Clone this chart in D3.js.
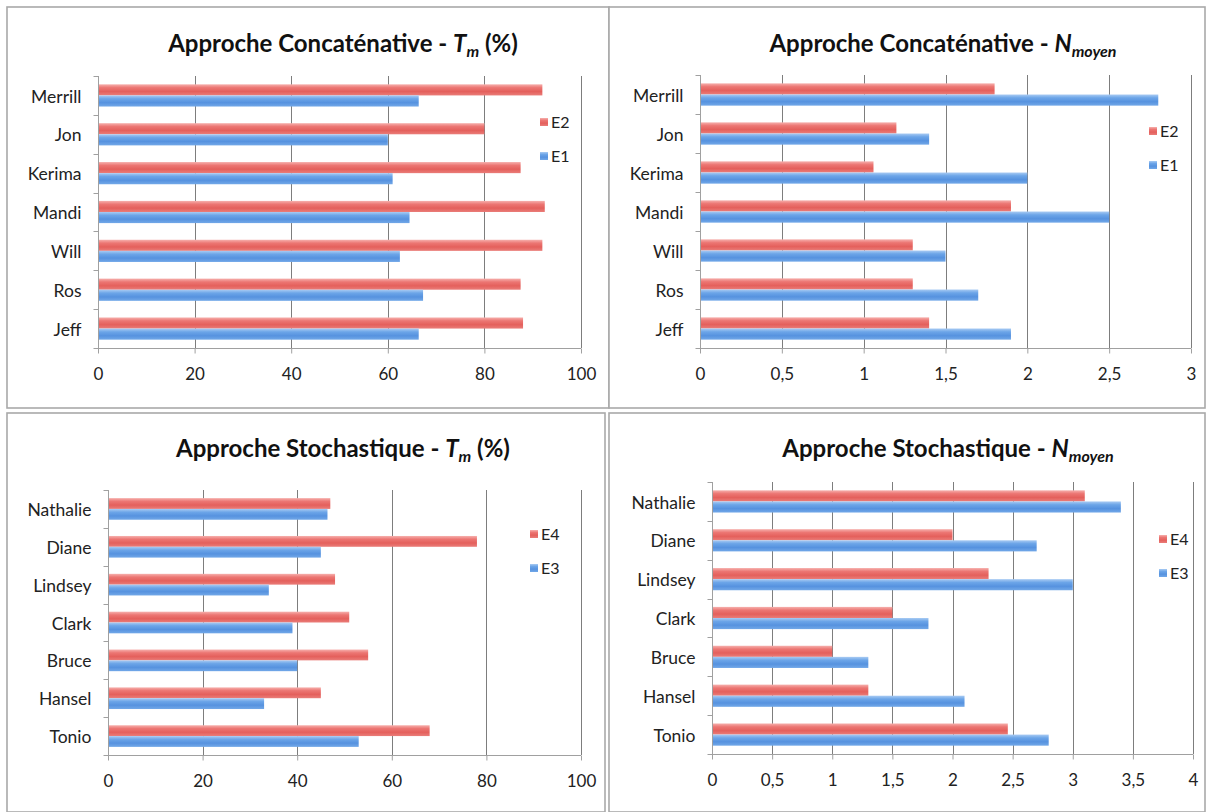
<!DOCTYPE html>
<html>
<head>
<meta charset="utf-8">
<script src="https://cdn.jsdelivr.net/npm/d3@7"></script>
<style>
  html, body { margin: 0; padding: 0; background: #ffffff; }
  svg { display: block; }
  text { font-family: Lato, "Open Sans", "DejaVu Sans", sans-serif; }
</style>
</head>
<body>
<svg id="chart" width="1206" height="812"></svg>
<script>
// ---- Data ----
const namesConcat = ["Merrill", "Jon", "Kerima", "Mandi", "Will", "Ros", "Jeff"];
const concatTmE2 = [92, 80, 87.5, 92.5, 92, 87.5, 88];
const concatTmE1 = [66.4, 60, 61, 64.5, 62.5, 67.3, 66.4];
const concatNE2 = [1.8, 1.2, 1.06, 1.9, 1.3, 1.3, 1.4];
const concatNE1 = [2.8, 1.4, 2.0, 2.5, 1.5, 1.7, 1.9];

const namesStoch = ["Nathalie", "Diane", "Lindsey", "Clark", "Bruce", "Hansel", "Tonio"];
const stochTmE4 = [47, 78, 48, 51, 55, 45, 68];
const stochTmE3 = [46.4, 45, 34, 39, 40, 33, 53];
const stochNE4 = [3.1, 2.0, 2.3, 1.5, 1.0, 1.3, 2.46];
const stochNE3 = [3.4, 2.7, 3.0, 1.8, 1.3, 2.1, 2.8];

const tmTicks = [0, 20, 40, 60, 80, 100];
const nConcatTicks = [0, 0.5, 1, 1.5, 2, 2.5, 3];
const nStochTicks = [0, 0.5, 1, 1.5, 2, 2.5, 3, 3.5, 4];

const seriesConcat = ["E2", "E1"];
const seriesStoch = ["E4", "E3"];

// ---- Panel layout ----
const panels = [
  { box: [7, 7, 602, 401], plot: [98, 76, 581, 348], titleX: 343, titleY: 52,
    titleMain: "Approche Concaténative - ", sym: "T", sub: "m", tail: " (%)",
    names: namesConcat, series: seriesConcat, values: [concatTmE2, concatTmE1],
    ticks: tmTicks, legend: [540, 122, 34] },
  { box: [609, 7, 596, 401], plot: [700, 75, 1191, 348], titleX: 943, titleY: 52,
    titleMain: "Approche Concaténative - ", sym: "N", sub: "moyen", tail: "",
    names: namesConcat, series: seriesConcat, values: [concatNE2, concatNE1],
    ticks: nConcatTicks, legend: [1149, 131, 34] },
  { box: [7, 413, 598, 399], plot: [108, 490, 581, 755], titleX: 343, titleY: 457,
    titleMain: "Approche Stochastique - ", sym: "T", sub: "m", tail: " (%)",
    names: namesStoch, series: seriesStoch, values: [stochTmE4, stochTmE3],
    ticks: tmTicks, legend: [530, 534, 34] },
  { box: [609, 413, 596, 399], plot: [712, 482, 1193, 754], titleX: 948, titleY: 457,
    titleMain: "Approche Stochastique - ", sym: "N", sub: "moyen", tail: "",
    names: namesStoch, series: seriesStoch, values: [stochNE4, stochNE3],
    ticks: nStochTicks, legend: [1159, 539, 34] }
];

const frLocale = d3.formatLocale({ decimal: ",", thousands: " ", grouping: [3], currency: ["", " €"] });
const fmt = frLocale.format("~g");

const svg = d3.select("#chart");
const defs = svg.append("defs");

// Glossy bar fills (red = upper series, blue = lower series)
function addGradient(id, stops) {
  const g = defs.append("linearGradient").attr("id", id)
    .attr("x1", 0).attr("y1", 0).attr("x2", 0).attr("y2", 1);
  stops.forEach(([o, c]) => g.append("stop").attr("offset", o).attr("stop-color", c));
}
addGradient("gRed", [["0%", "#f6b0ad"], ["30%", "#ec7673"], ["65%", "#e4605c"], ["100%", "#ea7d79"]]);
addGradient("gBlue", [["0%", "#a9cbf3"], ["30%", "#6ca5e8"], ["65%", "#5692df"], ["100%", "#72a8e8"]]);
const fills = ["url(#gRed)", "url(#gBlue)"];

panels.forEach(p => {
  const g = svg.append("g");
  const [bx, by, bw, bh] = p.box;
  g.append("rect").attr("x", bx).attr("y", by).attr("width", bw).attr("height", bh)
    .attr("fill", "#ffffff").attr("stroke", "#a9a9a9").attr("stroke-width", 1.6);

  const [x0, y0, x1, y1] = p.plot;
  const x = d3.scaleLinear().domain([p.ticks[0], p.ticks[p.ticks.length - 1]]).range([x0, x1]);
  const y = d3.scaleBand().domain(p.names).range([y0, y1])
    .paddingInner(1.5 / 3.5).paddingOuter(0.75 / 3.5);
  const step = y.step();

  // vertical gridlines
  g.append("g").selectAll("line").data(p.ticks.slice(1)).join("line")
    .attr("x1", d => Math.round(x(d)) + 0.5).attr("x2", d => Math.round(x(d)) + 0.5)
    .attr("y1", y0).attr("y2", y1)
    .attr("stroke", "#7d7d7d").attr("stroke-width", 1);

  // bars
  const bh2 = y.bandwidth() / 2;
  p.values.forEach((vals, si) => {
    g.append("g").selectAll("rect").data(vals).join("rect")
      .attr("x", x0)
      .attr("y", (d, i) => y(p.names[i]) + si * bh2)
      .attr("width", d => x(d) - x0)
      .attr("height", bh2)
      .attr("fill", fills[si]);
  });

  // category axis (left)
  const yAxis = g.append("g").attr("transform", `translate(${x0 + 0.5},0)`);
  yAxis.append("line").attr("y1", y0).attr("y2", y1 + 4).attr("stroke", "#a0a0a0");
  yAxis.selectAll("line.tk").data(d3.range(p.names.length + 1)).join("line").attr("class", "tk")
    .attr("x1", -5).attr("x2", 0)
    .attr("y1", i => Math.round(y0 + i * step) + 0.5).attr("y2", i => Math.round(y0 + i * step) + 0.5)
    .attr("stroke", "#a0a0a0");
  yAxis.selectAll("text").data(p.names).join("text")
    .attr("x", -17).attr("y", d => y(d) + y.bandwidth() / 2 + 1)
    .attr("dy", "0.35em").attr("text-anchor", "end")
    .attr("font-size", 17.5).attr("fill", "#222")
    .text(d => d);

  // value axis (bottom)
  const xAxis = d3.axisBottom(x).tickValues(p.ticks).tickFormat(fmt).tickSize(5).tickPadding(14);
  const xg = g.append("g").attr("transform", `translate(0,${y1 + 0.5})`).call(xAxis);
  xg.select(".domain").attr("stroke", "#a0a0a0").attr("d", `M${x0},0H${x1}`);
  xg.selectAll(".tick line").attr("stroke", "#a0a0a0");
  xg.selectAll(".tick text").attr("font-size", 17).attr("fill", "#222")
    .style("font-family", "Lato, 'Open Sans', sans-serif");

  // title
  const t = g.append("text").attr("x", p.titleX).attr("y", p.titleY)
    .attr("text-anchor", "middle").attr("font-size", 24).attr("font-weight", 700).attr("fill", "#111");
  t.append("tspan").text(p.titleMain);
  t.append("tspan").attr("font-style", "italic").text(p.sym);
  t.append("tspan").attr("font-style", "italic").attr("font-size", 16).attr("dy", 5).text(p.sub);
  if (p.tail) t.append("tspan").attr("dy", -5).text(p.tail);

  // legend
  const [lx, ly, lgap] = p.legend;
  p.series.forEach((s, si) => {
    g.append("rect").attr("x", lx).attr("y", ly + si * lgap - 4).attr("width", 8).attr("height", 8)
      .attr("fill", fills[si]);
    g.append("text").attr("x", lx + 11).attr("y", ly + si * lgap).attr("dy", "0.35em")
      .attr("font-size", 16).attr("fill", "#222").text(s);
  });
});
</script>
</body>
</html>
